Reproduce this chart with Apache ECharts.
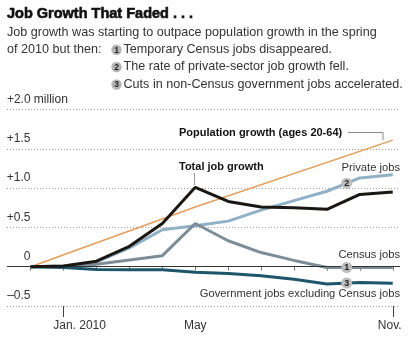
<!DOCTYPE html>
<html>
<head>
<meta charset="utf-8">
<style>
  html, body { margin: 0; padding: 0; background: #fff; }
  #chart { width: 409px; height: 345px; }
</style>
<script src="https://cdn.jsdelivr.net/npm/echarts@6/dist/echarts.min.js"></script>
</head>
<body>
<div id="chart"></div>
<script>
// Months from December 2009 to November 2010 (x = month index)
const months = ['Dec. 2009', 'Jan. 2010', 'Feb.', 'Mar.', 'Apr.', 'May', 'Jun.', 'Jul.', 'Aug.', 'Sep.', 'Oct.', 'Nov.'];
const labeledMonths = [1, 5, 11];
const tickLabels = ['Jan. 2010', 'May', 'Nov.'];
const longTickMonths = [1, 11];

// Cumulative change since December 2009, millions of jobs / people
const totalJobs      = [0, 0.01, 0.07, 0.26, 0.55, 1.01, 0.83, 0.76, 0.75, 0.73, 0.92, 0.95];
const privateJobs    = [0, 0.01, 0.06, 0.24, 0.47, 0.52, 0.58, 0.72, 0.84, 0.96, 1.13, 1.17];
const censusJobs     = [0, 0, 0.03, 0.085, 0.14, 0.55, 0.33, 0.18, 0.08, -0.01, -0.01, -0.01];
const governmentJobs = [0, -0.01, -0.035, -0.04, -0.04, -0.07, -0.085, -0.115, -0.16, -0.22, -0.20, -0.21];
const populationMonths = [0, 5, 11];
const populationGrowth = [0, 0.76, 1.61];

// Numbered call-outs sit between September and October
const calloutMonth = 9.6;

const FONT = '"Liberation Sans", Arial, sans-serif';

function pairs(values) { return values.map((v, i) => [i, v]); }
function valueAt(values, m) {
  const i = Math.floor(m), f = m - i;
  return values[i] + (values[i + 1] - values[i]) * f;
}
function callout(series, num) {
  return {
    silent: true,
    symbol: 'circle',
    symbolSize: 11,
    itemStyle: { color: '#bdbdbd' },
    label: { show: true, position: 'inside', formatter: String(num), color: '#222', fontSize: 9, fontWeight: 'bold', fontFamily: FONT },
    data: [{ coord: [calloutMonth, valueAt(series, calloutMonth)] }]
  };
}
function yLabel(v) {
  if (v === 0) return '{n|0}';
  const s = (v > 0 ? '+' : '\u2013') + Math.abs(v).toFixed(1);
  return v === 2 ? '{n|' + s + '}{m| million}' : '{n|' + s + '}';
}

const chart = echarts.init(document.getElementById('chart'), null, { renderer: 'canvas' });

const legendRows = [
  { n: 1, text: 'Temporary Census jobs disappeared.', y: 49.7 },
  { n: 2, text: 'The rate of private-sector job growth fell.', y: 67 },
  { n: 3, text: 'Cuts in non-Census government jobs accelerated.', y: 84.5 }
];

const graphics = [
  { type: 'text', style: { x: 7, y: 13.5, verticalAlign: 'middle', text: 'Job Growth That Faded . . .', font: 'bold 14.5px ' + FONT, fill: '#111', stroke: '#111', lineWidth: 0.6 } },
  { type: 'text', style: { x: 7, y: 33, verticalAlign: 'middle', text: 'Job growth was starting to outpace population growth in the spring', font: '12.6px ' + FONT, fill: '#333' } },
  { type: 'text', style: { x: 7, y: 49.7, verticalAlign: 'middle', text: 'of 2010 but then:', font: '12.6px ' + FONT, fill: '#333' } }
];
legendRows.forEach(r => {
  graphics.push({ type: 'circle', shape: { cx: 116.5, cy: r.y, r: 5.2 }, style: { fill: '#b4b4b4' } });
  graphics.push({ type: 'text', style: { x: 116.5, y: r.y + 0.5, align: 'center', verticalAlign: 'middle', text: String(r.n), font: 'bold 8.5px ' + FONT, fill: '#222' } });
  graphics.push({ type: 'text', style: { x: 123.5, y: r.y, verticalAlign: 'middle', text: r.text, font: '12.6px ' + FONT, fill: '#333' } });
});
// Series annotations and leader lines
graphics.push(
  { type: 'text', style: { x: 179, y: 133, verticalAlign: 'middle', text: 'Population growth (ages 20-64)', font: 'bold 11px ' + FONT, fill: '#111' } },
  { type: 'polyline', shape: { points: [[348, 132.5], [383, 132.5], [383, 140]] }, style: { stroke: '#888', lineWidth: 1, fill: null } },
  { type: 'text', style: { x: 179, y: 166.5, verticalAlign: 'middle', text: 'Total job growth', font: 'bold 11px ' + FONT, fill: '#111' } },
  { type: 'line', shape: { x1: 194.5, y1: 173, x2: 194.5, y2: 185 }, style: { stroke: '#999', lineWidth: 1 } },
  { type: 'text', style: { x: 400, y: 167.5, align: 'right', verticalAlign: 'middle', text: 'Private jobs', font: '11.2px ' + FONT, fill: '#333' } },
  { type: 'text', style: { x: 400, y: 254.5, align: 'right', verticalAlign: 'middle', text: 'Census jobs', font: '11.2px ' + FONT, fill: '#333' } },
  { type: 'text', style: { x: 400, y: 293.5, align: 'right', verticalAlign: 'middle', text: 'Government jobs excluding Census jobs', font: '11.2px ' + FONT, fill: '#333' } }
);

const lineBase = { type: 'line', symbol: 'none', smooth: false, silent: true, animation: false };

chart.setOption({
  animation: false,
  backgroundColor: '#fff',
  grid: { left: 7, right: 9, top: 109.5, bottom: 39, containLabel: false },
  xAxis: [
    {
      type: 'value', min: -0.72, max: 11.22, position: 'bottom',
      axisLine: { show: false },
      splitLine: { show: false },
      axisTick: { show: true, length: 4, customValues: months.map((m, i) => i), lineStyle: { color: '#777', width: 1 } },
      axisLabel: {
        show: true, customValues: labeledMonths, margin: 14, color: '#333', fontSize: 12, fontFamily: FONT,
        formatter: v => {
          const t = tickLabels[labeledMonths.indexOf(Math.round(v))];
          if (Math.round(v) === 1) return '{j|' + t + '}';
          if (Math.round(v) === 11) return '{k|' + t + '}';
          return t;
        },
        rich: {
          j: { padding: [0, 0, 0, 32], color: '#333', fontSize: 12, fontFamily: FONT },
          k: { padding: [0, 6, 0, 0], color: '#333', fontSize: 12, fontFamily: FONT }
        }
      }
    },
    {
      type: 'value', min: -0.72, max: 11.22, position: 'bottom', offset: 0,
      axisLine: { show: false },
      splitLine: { show: false },
      axisTick: { show: true, length: 11, customValues: longTickMonths, lineStyle: { color: '#444', width: 1 } },
      axisLabel: { show: false }
    }
  ],
  yAxis: {
    type: 'value', min: -0.5, max: 2.0, interval: 0.5,
    axisLine: { show: false },
    axisTick: { show: false },
    splitLine: { show: true, lineStyle: { color: '#999', width: 1, type: [1, 2] } },
    axisLabel: {
      inside: true, margin: 0, verticalAlign: 'bottom', padding: [0, 0, 3, 0],
      formatter: yLabel,
      rich: {
        n: { width: 23.5, align: 'right', color: '#333', fontSize: 12, fontFamily: FONT, lineHeight: 14 },
        m: { color: '#333', fontSize: 12, fontFamily: FONT, lineHeight: 14 }
      }
    }
  },
  graphic: graphics,
  series: [
    Object.assign({}, lineBase, {
      name: 'Population growth (ages 20-64)', z: 2,
      data: populationMonths.map((m, i) => [m, populationGrowth[i]]),
      lineStyle: { color: '#e39d5c', width: 1.5 },
      markLine: {
        silent: true, symbol: 'none', label: { show: false },
        lineStyle: { color: '#333', width: 1, type: 'solid' },
        data: [{ yAxis: 0 }]
      }
    }),
    Object.assign({}, lineBase, {
      name: 'Private jobs', z: 3,
      data: pairs(privateJobs),
      lineStyle: { color: '#8fb0c5', width: 3 },
      markPoint: callout(privateJobs, 2)
    }),
    Object.assign({}, lineBase, {
      name: 'Census jobs', z: 4,
      data: pairs(censusJobs),
      lineStyle: { color: '#7d8d97', width: 3 },
      markPoint: callout(censusJobs, 1)
    }),
    Object.assign({}, lineBase, {
      name: 'Government jobs excluding Census jobs', z: 4,
      data: pairs(governmentJobs),
      lineStyle: { color: '#1d566a', width: 3 },
      markPoint: callout(governmentJobs, 3)
    }),
    Object.assign({}, lineBase, {
      name: 'Total job growth', z: 5,
      data: pairs(totalJobs),
      lineStyle: { color: '#1a1712', width: 3 }
    })
  ]
});
</script>
</body>
</html>
